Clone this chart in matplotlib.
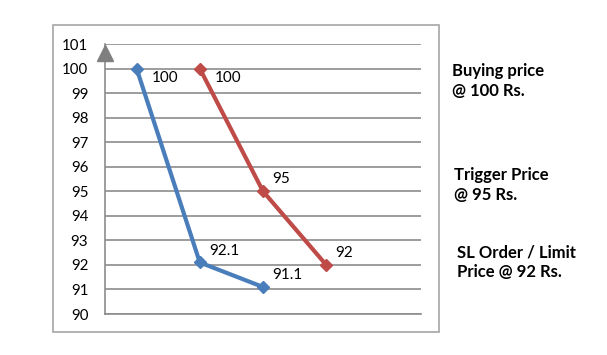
import matplotlib.pyplot as plt
import matplotlib.patches as mp

# data
cats = [0, 1, 2, 3, 4]
blue_x = [0, 1, 2]
blue_y = [100, 92.1, 91.1]
red_x = [1, 2, 3]
red_y = [100, 95, 92]
yticks = list(range(90, 102))
notes = ["Buying price\n@ 100 Rs.", "Trigger Price\n@ 95 Rs.", "SL Order / Limit\nPrice @ 92 Rs."]

W, H = 607, 355
plt.rcParams['font.family'] = ['Lato', 'DejaVu Sans']

fig = plt.figure(figsize=(W / 100, H / 100), dpi=100)

def fx(px): return px / W
def fy(py): return 1 - py / H

# outer chart border
fig.patches.append(mp.Rectangle((fx(53), fy(332)), fx(439) - fx(53), fy(25) - fy(332),
                                transform=fig.transFigure, fill=False,
                                edgecolor='#a6a6a6', lw=1.2))

ax = fig.add_axes([fx(105), fy(314), fx(421) - fx(105), fy(44) - fy(314)])
ax.set_xlim(-0.5, len(cats) - 0.5)
ax.set_ylim(90, 101)
ax.set_yticks(yticks)
ax.set_xticks([])
for s in ['top', 'right']:
    ax.spines[s].set_visible(False)
for s in ['left', 'bottom']:
    ax.spines[s].set_color('#8c8c8c')
    ax.spines[s].set_linewidth(1.2)
ax.yaxis.grid(True, color='#8c8c8c', lw=1.2)
ax.set_axisbelow(True)
ax.tick_params(axis='y', length=0, pad=12, labelsize=10.8, labelcolor='black')

# arrow head on the y axis
ax.plot([-0.5], [100.62], marker='^', ms=11, color='#7f7f7f', clip_on=False, zorder=5)

ax.plot(blue_x, blue_y, color='#4a7ebb', lw=3, marker='D', ms=6, zorder=3)
ax.plot(red_x, red_y, color='#be4b48', lw=3, marker='D', ms=6, zorder=3)

def labels(xs, ys):
    for i, (x, y) in enumerate(zip(xs, ys)):
        off = (11, -6.5) if i == 0 else (6.5, 8.5)
        lab = f"{y:g}"
        ax.annotate(lab, (x, y), xytext=off, textcoords='offset points',
                    ha='left', va='center', fontsize=11)

labels(blue_x, blue_y)
labels(red_x, red_y)

note_pos = [(452, 81), (454, 185), (457, 262)]
for txt, (px, py) in zip(notes, note_pos):
    fig.text(fx(px), fy(py), txt, ha='left', va='center', fontsize=12,
             fontweight='bold', linespacing=1.3)

fig.savefig('out.png', dpi=100, facecolor='white')
